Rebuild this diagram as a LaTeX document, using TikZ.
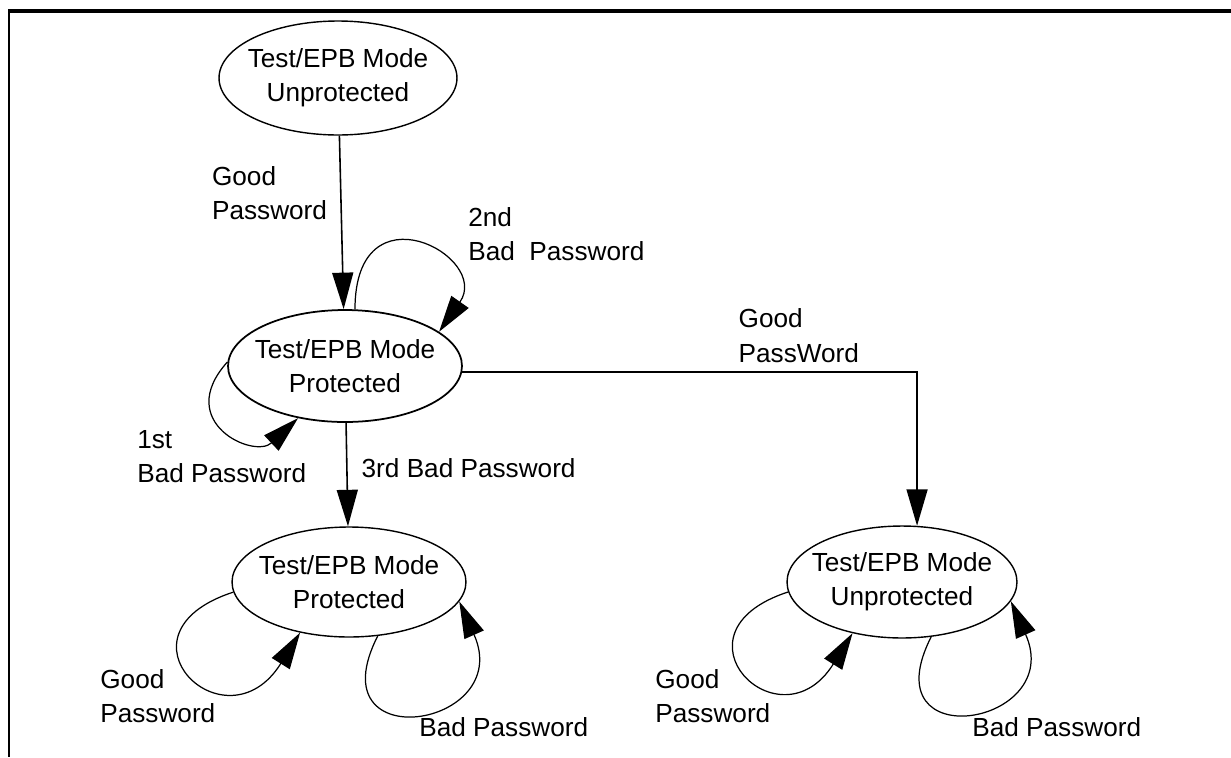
\documentclass[tikz,border=0pt]{standalone}
\usepackage{fontspec}
\setmainfont{Liberation Sans}
\usetikzlibrary{shapes.geometric,arrows.meta,positioning}

\begin{document}
\begin{tikzpicture}[
    font=\fontsize{14.9}{19.5}\selectfont,
    >={Triangle[length=0.73cm,width=0.42cm]},
    modestate/.style={draw, ellipse, inner xsep=-0.3cm, inner ysep=0pt, align=center, line width=0.8pt},
    lbl/.style={inner sep=0pt, align=left},
    conn/.style={->, line width=0.9pt},
    selfloop/.style={->, line width=0.7pt},
  ]
    \def\x{0.02}
    \def\y{-0.02}
    \useasboundingbox (0,0) rectangle (1231*\x, 757*\y);
    % frame
    \draw [line width=2pt] (8*\x, 11*\y) -- (1231*\x, 11*\y);
    \draw [line width=1.1pt] (9*\x, 11*\y) -- (9*\x, 757*\y);
    % states
    \node (A0_0) [modestate, minimum width=4.76cm, minimum height=2.28cm] at (338*\x, 78*\y) {Test/EPB Mode\\Unprotected};
    \node (A1_0) [modestate, line width=1pt, minimum width=4.68cm, minimum height=2.24cm] at (345*\x, 366*\y) {Test/EPB Mode\\Protected};
    \node (A2_0) [modestate, minimum width=4.68cm, minimum height=2.2cm] at (349*\x, 582*\y) {Test/EPB Mode\\Protected};
    \node (A2_1) [modestate, minimum width=4.6cm, minimum height=2.24cm] at (902*\x, 582*\y) {Test/EPB Mode\\Unprotected};
    % transitions
    \path (A0_0) edge [conn] node [lbl, pos=0.33, left=0.26cm] {Good\\Password} (A1_0);
    \path (A1_0) edge [conn] node [lbl, pos=0.44, right=0.28cm] {3rd Bad Password} (A2_0);
    \draw [conn] (A1_0.357) -| node [lbl, pos=0.37, above=0.18cm] {Good\\PassWord} (A2_1.75);
    % self loops
    \path (A1_0.80) edge [selfloop, out=90, in=55, out looseness=3.7, in looseness=2.7] (A1_0.20);
    \path (A1_0.178) edge [selfloop, out=228, in=223, out looseness=2.3, in looseness=1.7] (A1_0.228);
    \path (A2_0.185) edge [selfloop, out=198, in=238, out looseness=4.4, in looseness=4.6] (A2_0.226);
    \path (A2_0.298) edge [selfloop, out=243, in=294, out looseness=4.0, in looseness=4.0] (A2_0.350);
    \path (A2_1.185) edge [selfloop, out=198, in=238, out looseness=4.4, in looseness=4.6] (A2_1.226);
    \path (A2_1.298) edge [selfloop, out=243, in=294, out looseness=4.0, in looseness=4.0] (A2_1.350);
    % loop labels
    \node (L1_0a) [lbl, anchor=west] at (468*\x, 234.5*\y) {2nd\\Bad\ \ Password};
    \node (L1_0b) [lbl, anchor=west] at (137*\x, 456.5*\y) {1st\\Bad Password};
    \node (L2_0a) [lbl, anchor=west] at (100*\x, 696.5*\y) {Good\\Password};
    \node (L2_0b) [lbl, anchor=west] at (419*\x, 727*\y) {Bad Password};
    \node (L2_1a) [lbl, anchor=west] at (655*\x, 696*\y) {Good\\Password};
    \node (L2_1b) [lbl, anchor=west] at (972*\x, 727*\y) {Bad Password};
  \end{tikzpicture}
\end{document}
